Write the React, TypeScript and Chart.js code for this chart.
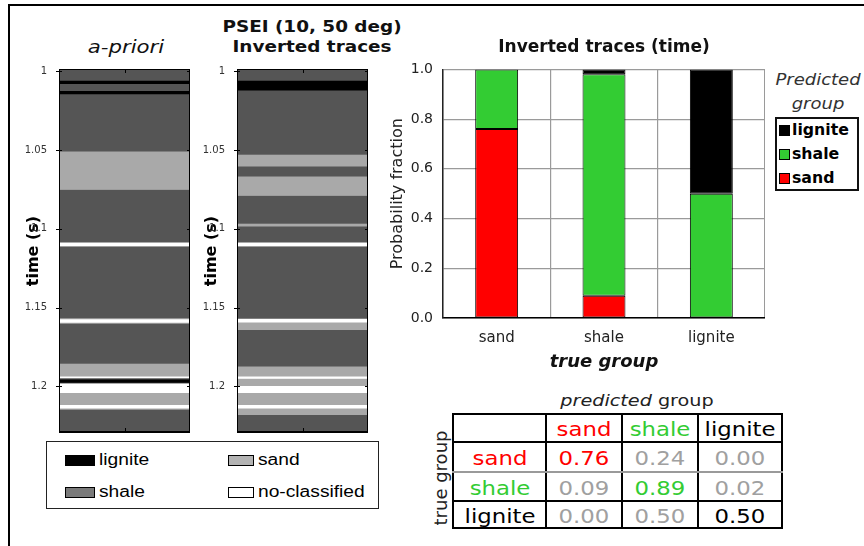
import React, { useEffect, useRef } from 'react';
import { Chart, registerables } from 'chart.js';

Chart.register(...registerables);

const FONT = "'DejaVu Sans', Verdana, sans-serif";
const SANS = "'Liberation Sans', Arial, sans-serif";
Chart.defaults.font.family = FONT;

// Facies classes used in the trace logs
const faciesNames = ['lignite', 'shale', 'sand', 'no-classified'];
const faciesColors = ['#000000', '#555555', '#a9a9a9', '#ffffff'];
const faciesSwatches = ['#000000', '#7a7a7a', '#b3b3b3', '#ffffff'];

// a-priori log: layer tops (s) and facies index of each layer (0 lignite, 1 shale, 2 sand, 3 no-classified)
const aprioriTops = [
  0.9985, 1.0057, 1.0078, 1.0122, 1.0143, 1.0507, 1.075, 1.1082, 1.1088, 1.1106, 1.1112,
  1.1566, 1.1571, 1.1594, 1.16, 1.1855, 1.1935, 1.1946, 1.1955, 1.1975, 1.198, 1.204,
  1.2116, 1.2138, 1.2146,
];
const aprioriFacies = [
  1, 0, 1, 0, 1, 2, 1, 2, 3, 2, 1,
  2, 3, 2, 1, 2, 3, 1, 0, 1, 3, 2,
  3, 2, 1,
];

// Inverted log
const invertedTops = [
  0.9985, 1.0057, 1.012, 1.0528, 1.0602, 1.0665, 1.0788, 1.0966, 1.0983, 1.1082, 1.1088,
  1.1106, 1.1112, 1.1568, 1.1592, 1.164, 1.1872, 1.1935, 1.195, 1.1995, 1.204, 1.2116,
  1.2138, 1.218,
];
const invertedFacies = [
  1, 0, 1, 2, 1, 2, 1, 2, 1, 2, 3,
  2, 1, 3, 2, 1, 2, 3, 2, 3, 2, 3,
  2, 1,
];

const logBase = 1.2296;
const timeTicks = [1, 1.05, 1.1, 1.15, 1.2];
const timeTickLabels = ['1', '1.05', '1.1', '1.15', '1.2'];

// Probability of each predicted group (columns) for each true group
const groups = ['sand', 'shale', 'lignite'];
const groupColors = ['#ff0000', '#33cc33', '#000000'];
const predSand = [0.76, 0.09, 0.0];
const predShale = [0.24, 0.89, 0.5];
const predLignite = [0.0, 0.02, 0.5];
const probTicks = [0, 0.2, 0.4, 0.6, 0.8, 1.0];

function layerDatasets(tops: number[], facies: number[], base: number) {
  return tops.map((top, i) => ({
    label: faciesNames[facies[i]],
    data: [[top, i + 1 < tops.length ? tops[i + 1] : base]],
    backgroundColor: faciesColors[facies[i]],
    borderWidth: 0,
    barPercentage: 1,
    categoryPercentage: 1,
    grouped: false,
  }));
}

// frame and tick marks around a log panel
const logFrame = {
  id: 'logFrame',
  afterDatasetsDraw(chart: any) {
    const { ctx, chartArea: a, scales } = chart;
    ctx.save();
    ctx.strokeStyle = '#000';
    ctx.lineWidth = 1;
    ctx.strokeRect(a.left + 0.5, a.top + 0.5, a.right - a.left - 1, a.bottom - a.top - 1);
    ctx.lineWidth = 2;
    ctx.beginPath();
    ctx.moveTo(a.left, a.bottom - 1);
    ctx.lineTo(a.right, a.bottom - 1);
    ctx.stroke();
    ctx.lineWidth = 1;
    ctx.beginPath();
    for (const v of timeTicks) {
      const py = Math.round(scales.y.getPixelForValue(v)) + 0.5;
      ctx.moveTo(a.left - 3, py);
      ctx.lineTo(a.left + 3, py);
      ctx.moveTo(a.right + 3, py);
      ctx.lineTo(a.right - 3, py);
    }
    const px = Math.round(scales.x.getPixelForValue(0)) + 0.5;
    ctx.moveTo(px, a.top);
    ctx.lineTo(px, a.top + 4);
    ctx.moveTo(px, a.bottom);
    ctx.lineTo(px, a.bottom - 5);
    ctx.stroke();
    ctx.restore();
  },
};

function TraceLog({ left, tops, facies }: { left: number; tops: number[]; facies: number[] }) {
  const ref = useRef<HTMLCanvasElement>(null);
  useEffect(() => {
    const chart = new Chart(ref.current as HTMLCanvasElement, {
      type: 'bar',
      data: { labels: ['trace'], datasets: layerDatasets(tops, facies, logBase) as any },
      options: {
        animation: false,
        responsive: false,
        layout: { padding: { top: 8, bottom: 2, left: 0, right: 0 } },
        plugins: { legend: { display: false }, tooltip: { enabled: false } },
        scales: {
          x: { display: false },
          y: {
            reverse: true,
            min: tops[0],
            max: logBase,
            afterBuildTicks: (s: any) => {
              s.ticks = timeTicks.map((v) => ({ value: v }));
            },
            afterFit: (s: any) => {
              s.width = 39;
              s.paddingTop = 0;
              s.paddingBottom = 0;
            },
            ticks: {
              padding: 4,
              color: '#333',
              font: { size: 10 },
              callback: (_v: any, i: number) => timeTickLabels[i],
            },
            grid: { display: false },
            border: { display: false },
            title: {
              display: true,
              text: 'time (s)',
              color: '#000',
              font: { size: 16, weight: 'bold' },
              padding: { top: 4, bottom: 0 },
            },
          },
        },
      } as any,
      plugins: [logFrame],
    });
    return () => chart.destroy();
  }, []);
  return (
    <canvas
      ref={ref}
      width={170}
      height={374}
      style={{ position: 'absolute', left, top: 61, width: 170, height: 374 }}
    />
  );
}

function ProbabilityBars() {
  const ref = useRef<HTMLCanvasElement>(null);
  useEffect(() => {
    const series = [predSand, predShale, predLignite];
    const chart = new Chart(ref.current as HTMLCanvasElement, {
      type: 'bar',
      data: {
        labels: groups,
        datasets: series.map((d, i) => ({
          label: groups[i],
          data: d,
          backgroundColor: groupColors[i],
          borderColor: '#000',
          borderWidth: 1,
          borderSkipped: false,
          barPercentage: 0.4,
          categoryPercentage: 1,
        })),
      },
      options: {
        animation: false,
        responsive: false,
        layout: { padding: 0 },
        plugins: {
          legend: { display: false },
          tooltip: { enabled: false },
          title: {
            display: true,
            fullSize: false,
            text: 'Inverted traces (time)',
            color: '#111',
            font: { size: 17, weight: 'bold' },
            padding: { top: 7, bottom: 12 },
          },
        },
        scales: {
          x: {
            stacked: true,
            afterFit: (s: any) => {
              s.height = 59;
            },
            grid: { color: '#9a9a9a', drawTicks: false, offset: true, lineWidth: 1.2 },
            border: { color: '#000', width: 1.5 },
            ticks: { padding: 11, color: '#222', font: { size: 15 } },
            title: {
              display: true,
              text: 'true group',
              color: '#111',
              font: { size: 18, weight: 'bold', style: 'italic' },
              padding: { top: 0, bottom: 4 },
            },
          },
          y: {
            stacked: true,
            min: 0,
            max: 1,
            afterBuildTicks: (s: any) => {
              s.ticks = probTicks.map((v) => ({ value: v }));
            },
            afterFit: (s: any) => {
              s.width = 63;
            },
            grid: { color: '#9a9a9a', drawTicks: false, lineWidth: 1.2 },
            border: { color: '#222', width: 1.5 },
            ticks: {
              padding: 10,
              color: '#222',
              font: { size: 14 },
              callback: (v: any) => Number(v).toFixed(1),
            },
            title: {
              display: true,
              text: 'Probability fraction',
              color: '#222',
              font: { size: 16 },
              padding: { top: 8, bottom: 0 },
            },
          },
        },
      } as any,
    });
    return () => chart.destroy();
  }, []);
  return (
    <canvas
      ref={ref}
      width={385}
      height={347}
      style={{ position: 'absolute', left: 380, top: 30, width: 385, height: 347 }}
    />
  );
}

function Text({
  x,
  y,
  children,
  style,
  sx = 1.2,
  align = 'center',
  rotate = false,
}: {
  x: number;
  y: number;
  children: React.ReactNode;
  style?: React.CSSProperties;
  sx?: number;
  align?: 'center' | 'left';
  rotate?: boolean;
}) {
  const transform = rotate
    ? `translate(-50%, -50%) rotate(-90deg) scaleX(${sx})`
    : align === 'center'
    ? `translate(-50%, -50%) scaleX(${sx})`
    : `translateY(-50%) scaleX(${sx})`;
  return (
    <div
      style={{
        position: 'absolute',
        left: x,
        top: y,
        whiteSpace: 'nowrap',
        lineHeight: 1,
        fontFamily: FONT,
        transform,
        transformOrigin: align === 'left' && !rotate ? 'left center' : 'center center',
        ...style,
      }}
    >
      {children}
    </div>
  );
}

function FaciesLegend() {
  const items = [
    { i: 0, x: 65, w: 30, y: 460, tx: 99 },
    { i: 2, x: 228, w: 26, y: 460, tx: 258 },
    { i: 1, x: 65, w: 30, y: 492, tx: 99 },
    { i: 3, x: 228, w: 26, y: 492, tx: 258 },
  ];
  return (
    <>
      <div
        style={{
          position: 'absolute',
          left: 46,
          top: 441,
          width: 331,
          height: 66,
          border: '1px solid #222',
        }}
      />
      {items.map((it) => (
        <React.Fragment key={it.i}>
          <div
            style={{
              position: 'absolute',
              left: it.x,
              top: it.y - 5,
              width: it.w - 2,
              height: 9,
              background: faciesSwatches[it.i],
              border: '1px solid #000',
            }}
          />
          <Text x={it.tx} y={it.y} align="left" style={{ fontFamily: SANS, fontSize: 16, color: '#000' }}>
            {faciesNames[it.i]}
          </Text>
        </React.Fragment>
      ))}
    </>
  );
}

function GroupLegend() {
  const order = [2, 1, 0];
  return (
    <>
      <Text x={818} y={80} style={{ fontStyle: 'italic', fontSize: 15, color: '#333' }}>
        Predicted
      </Text>
      <Text x={818} y={104} style={{ fontStyle: 'italic', fontSize: 15, color: '#333' }}>
        group
      </Text>
      <div
        style={{
          position: 'absolute',
          left: 775,
          top: 117,
          width: 80,
          height: 70,
          border: '2px solid #111',
        }}
      />
      {order.map((g, k) => (
        <React.Fragment key={g}>
          <div
            style={{
              position: 'absolute',
              left: 779,
              top: 125 + k * 24,
              width: 9,
              height: 9,
              background: groupColors[g],
              border: '1px solid #000',
            }}
          />
          <Text x={792} y={130 + k * 24} align="left" sx={1.05} style={{ fontWeight: 'bold', fontSize: 15, color: '#000' }}>
            {groups[g]}
          </Text>
        </React.Fragment>
      ))}
    </>
  );
}

function ConfusionTable() {
  const cols = [453, 546, 622, 698, 782];
  const rows = [414, 442, 472, 501, 528];
  const matrix = groups.map((_, r) => [predSand[r], predShale[r], predLignite[r]]);
  const cells: React.ReactNode[] = [];
  const cellText = (r: number, c: number, text: string, color: string) => (
    <Text
      key={`t${r}-${c}`}
      x={(cols[c] + cols[c + 1]) / 2}
      y={(rows[r] + rows[r + 1]) / 2 + 1}
      style={{ fontSize: 19, color }}
    >
      {text}
    </Text>
  );
  groups.forEach((g, c) => cells.push(cellText(0, c + 1, g, groupColors[c])));
  groups.forEach((g, r) => {
    cells.push(cellText(r + 1, 0, g, groupColors[r]));
    matrix[r].forEach((v, c) => cells.push(cellText(r + 1, c + 1, v.toFixed(2), r === c ? groupColors[r] : '#a0a0a0')));
  });
  const lines: React.ReactNode[] = [];
  cols.forEach((x, i) =>
    lines.push(
      <div key={`v${i}`} style={{ position: 'absolute', left: x - 1, top: rows[0] - 1, width: 2, height: rows[4] - rows[0] + 2, background: '#000' }} />
    )
  );
  rows.forEach((y, i) =>
    lines.push(
      <div
        key={`h${i}`}
        style={{
          position: 'absolute',
          left: cols[0] - 1,
          top: y - 1,
          width: cols[4] - cols[0] + 2,
          height: 2,
          background: i === 2 ? '#9a9a9a' : '#000',
        }}
      />
    )
  );
  return (
    <>
      <Text x={637} y={401} style={{ fontSize: 16, color: '#222' }}>
        <span style={{ fontStyle: 'italic' }}>predicted</span> group
      </Text>
      <Text x={441} y={478} rotate sx={1} style={{ fontSize: 18, color: '#222' }}>
        true group
      </Text>
      {lines}
      {cells}
    </>
  );
}

export default function App() {
  return (
    <div
      style={{
        position: 'fixed',
        left: 0,
        top: 0,
        width: 864,
        height: 546,
        background: '#fff',
        overflow: 'hidden',
      }}
    >
      <div style={{ position: 'absolute', left: 8, top: 4, width: 856, height: 2, background: '#000' }} />
      <div style={{ position: 'absolute', left: 8, top: 4, width: 2, height: 542, background: '#000' }} />

      <Text x={312} y={27} sx={1.15} style={{ fontWeight: 'bold', fontSize: 16, color: '#111' }}>
        PSEI (10, 50 deg)
      </Text>
      <Text x={126} y={47} sx={1.25} style={{ fontStyle: 'italic', fontSize: 17, color: '#111' }}>
        a-priori
      </Text>
      <Text x={312} y={47} sx={1.15} style={{ fontWeight: 'bold', fontSize: 16, color: '#111' }}>
        Inverted traces
      </Text>

      <TraceLog left={20} tops={aprioriTops} facies={aprioriFacies} />
      <TraceLog left={198} tops={invertedTops} facies={invertedFacies} />
      <FaciesLegend />

      <ProbabilityBars />
      <GroupLegend />
      <ConfusionTable />
    </div>
  );
}
